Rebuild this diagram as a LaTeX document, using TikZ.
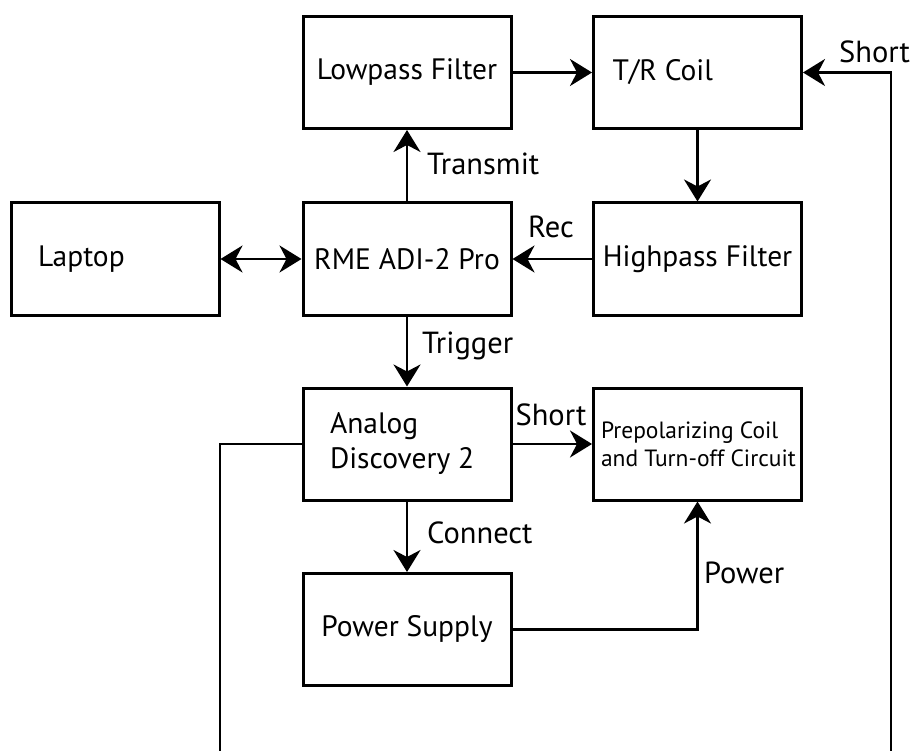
\documentclass[tikz,border=0pt]{standalone}
\usepackage{fontspec}
\setmainfont{PT Sans}
\usetikzlibrary{arrows.meta}
\begin{document}
\begin{tikzpicture}[x=1pt,y=-1pt,
  box/.style={draw,line width=3pt,minimum width=208pt,minimum height=112pt,inner sep=0pt,
    font=\fontsize{29.5}{35}\selectfont},
  smallbox/.style={box,font=\fontsize{23.5}{28}\selectfont},
  conn/.style={line width=2.5pt},
  arr/.style={conn,-{Stealth[length=22pt,width=27pt,inset=7pt]}},
  dblarr/.style={conn,{Stealth[length=22pt,width=27pt,inset=7pt]}-{Stealth[length=22pt,width=27pt,inset=7pt]}},
  lbl/.style={font=\fontsize{30.5}{32}\selectfont,inner sep=0pt}]
\useasboundingbox (0,0) rectangle (912,751);
% boxes
\node[box] (lp) at (407,72.5) {Lowpass Filter};
\node[box,text width=170pt,align=flush left] (tr) at (697.5,72.5) {T/R Coil};
\node[box,text width=154pt,align=flush left] (laptop) at (115,259) {Laptop};
\node[box] (rme) at (407,259) {RME ADI-2 Pro};
\node[box] (hp) at (697.5,259) {Highpass Filter};
\node[box,text width=154pt,align=flush left] (ad) at (407,444) {Analog\\Discovery 2};
\node[smallbox,text width=193pt,align=flush left] (pp) at (697.5,444) {\mbox{Prepolarizing Coil}\\\mbox{and Turn-off Circuit}};
\node[box] (ps) at (407,629.5) {Power Supply};
% free ends
\coordinate (lb) at (220,751);
\coordinate (rb) at (891,751);
% connectors
\draw[arr] (lp) -- (tr);
\draw[arr] (rme) -- (lp);
\draw[arr] (tr) -- (hp);
\draw[arr] (hp) -- (rme);
\draw[dblarr] (laptop) -- (rme);
\draw[arr] (rme) -- (ad);
\draw[arr] (ad) -- (pp);
\draw[arr] (ad) -- (ps);
\draw[arr] (ps.east) -| (pp.south);
\draw[conn] (ad.west) -| (lb);
\draw[arr] (rb) |- (tr.east);
% labels
\node[lbl,anchor=base west] (ltransmit) at (427,175) {Transmit};
\node[lbl,anchor=base] (lrec) at (551,238) {Rec};
\node[lbl,anchor=base west] (ltrigger) at (422,353) {Trigger};
\node[lbl,anchor=base] (lshort) at (551,425) {Short};
\node[lbl,anchor=base west] (lconnect) at (427,543) {Connect};
\node[lbl,anchor=base west] (lpower) at (704,583) {Power};
\node[lbl,anchor=base west] (lshorttop) at (839,63) {Short};
\end{tikzpicture}
\end{document}
